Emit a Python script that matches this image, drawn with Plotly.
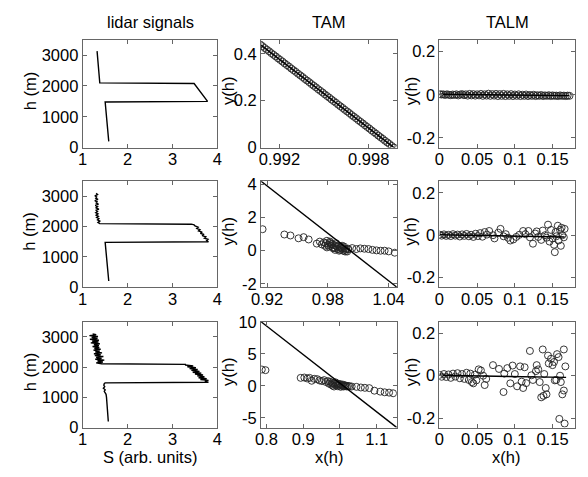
import plotly.graph_objects as go

W, H = 588, 477
FONT = "Liberation Sans, Arial, Helvetica, sans-serif"
FS = 16.5

# ---------------- lidar signals: altitude h (m) vs signal S (arb. units)
lid1_h = [200, 1480, 1500, 2080, 2100, 3130]
lid1_S = [1.58, 1.50, 3.78, 3.48, 1.38, 1.32]

lid2_h = [200, 600, 1000, 1480,
          1500, 1540, 1580, 1620, 1660, 1700, 1740, 1780, 1820, 1860, 1900, 1940, 1980, 2020, 2060, 2080,
          2100, 2140, 2180, 2220, 2260, 2300, 2340, 2380, 2420, 2460, 2500, 2540, 2580, 2620, 2660, 2700,
          2740, 2780, 2820, 2860, 2900, 2940, 2980, 3020, 3060, 3100]
lid2_S = [1.58, 1.56, 1.53, 1.50,
          3.80, 3.76, 3.79, 3.71, 3.74, 3.66, 3.70, 3.62, 3.66, 3.58, 3.61, 3.54, 3.57, 3.50, 3.48, 3.42,
          1.38, 1.34, 1.38, 1.33, 1.36, 1.31, 1.35, 1.30, 1.34, 1.29, 1.33, 1.30, 1.36, 1.29, 1.33, 1.28,
          1.35, 1.30, 1.32, 1.27, 1.34, 1.29, 1.31, 1.27, 1.33, 1.30]

lid3_h = [200, 500, 800, 1000, 1100, 1200, 1250, 1300, 1350, 1400, 1450, 1480,
          1500, 1530, 1560, 1590, 1620, 1650, 1680, 1710, 1740, 1770, 1800, 1830, 1860, 1890, 1920,
          1950, 1980, 2010, 2040, 2070, 2090,
          2110, 2140, 2170, 2200, 2230, 2260, 2290, 2320, 2350, 2380, 2410, 2440, 2470, 2500, 2530,
          2560, 2590, 2620, 2650, 2680, 2710, 2740, 2770, 2800, 2830, 2860, 2890, 2920, 2950, 2980,
          3010, 3040, 3070, 3100]
lid3_S = [1.57, 1.56, 1.55, 1.53, 1.52, 1.48, 1.50, 1.46, 1.49, 1.47, 1.48, 1.50,
          3.80, 3.72, 3.80, 3.62, 3.76, 3.58, 3.71, 3.55, 3.68, 3.50, 3.64, 3.45, 3.60, 3.42, 3.56,
          3.38, 3.52, 3.33, 3.46, 3.28, 3.30,
          1.42, 1.30, 1.45, 1.33, 1.48, 1.28, 1.42, 1.30, 1.46, 1.27, 1.40, 1.25, 1.43, 1.28, 1.38,
          1.24, 1.40, 1.26, 1.37, 1.22, 1.36, 1.25, 1.38, 1.18, 1.35, 1.21, 1.36, 1.16, 1.33, 1.20,
          1.34, 1.15, 1.30, 1.22]

# ---------------- TAM: y(h) vs x(h)
tam1_x = [0.99070, 0.99085, 0.99100, 0.99115, 0.99130, 0.99145, 0.99160, 0.99175, 0.99190, 0.99205,
          0.99220, 0.99235, 0.99250, 0.99265, 0.99280, 0.99295, 0.99310, 0.99325, 0.99340, 0.99355,
          0.99370, 0.99385, 0.99400, 0.99415, 0.99430, 0.99445, 0.99460, 0.99475, 0.99490, 0.99505,
          0.99520, 0.99535, 0.99550, 0.99565, 0.99580, 0.99595, 0.99610, 0.99625, 0.99640, 0.99655,
          0.99670, 0.99685, 0.99700, 0.99715, 0.99730, 0.99745, 0.99760, 0.99775, 0.99790, 0.99805,
          0.99820, 0.99835, 0.99850, 0.99865, 0.99880, 0.99895, 0.99910, 0.99925, 0.99940, 0.99955,
          0.99970]
tam1_y = [0.440, 0.433, 0.425, 0.418, 0.411, 0.403, 0.396, 0.389, 0.381, 0.374,
          0.367, 0.359, 0.352, 0.345, 0.337, 0.330, 0.323, 0.315, 0.308, 0.301,
          0.293, 0.286, 0.279, 0.271, 0.264, 0.257, 0.249, 0.242, 0.235, 0.227,
          0.220, 0.213, 0.205, 0.198, 0.191, 0.183, 0.176, 0.169, 0.161, 0.154,
          0.147, 0.139, 0.132, 0.125, 0.117, 0.110, 0.103, 0.095, 0.088, 0.081,
          0.073, 0.066, 0.059, 0.051, 0.044, 0.037, 0.029, 0.022, 0.015, 0.007,
          0.000]
tam1_line_x = [0.9907, 0.9998]
tam1_line_y = [0.440, -0.005]

tam2_x = [0.9155, 0.937, 0.943, 0.951, 0.956, 0.961, 0.969, 0.972, 0.974, 0.976,
          0.977, 0.978, 0.979, 0.980, 0.981, 0.982, 0.983, 0.984, 0.985, 0.986,
          0.987, 0.988, 0.989, 0.990, 0.991, 0.992, 0.993, 0.994, 0.995, 0.996,
          0.997, 0.998, 0.999, 1.000, 0.982, 0.985, 0.988, 0.991, 0.994, 0.997,
          0.979, 0.983, 0.987, 0.992, 0.996, 1.000, 1.004, 1.008, 1.012, 1.016,
          1.020, 1.024, 1.028, 1.032, 1.036, 1.040, 1.046]
tam2_y = [1.30, 0.98, 0.92, 0.75, 0.82, 0.68, 0.43, 0.55, 0.38, 0.50,
          0.30, 0.45, 0.60, 0.35, 0.25, 0.48, 0.30, 0.40, 0.20, 0.35,
          0.15, 0.30, 0.25, 0.10, 0.28, 0.05, 0.20, 0.12, 0.00, 0.15,
          0.05, 0.10, -0.05, 0.08, 0.55, 0.15, 0.45, 0.00, 0.30, -0.05,
          0.20, 0.40, 0.05, 0.18, 0.25, 0.12, 0.16, 0.10, 0.14, 0.12,
          0.10, 0.05, 0.02, 0.00, 0.00, -0.04, -0.12]
tam2_line_x = [0.914, 1.048]
tam2_line_y = [4.2, -2.2]

tam3_x = [0.787, 0.797, 0.893, 0.903, 0.911, 0.917, 0.923, 0.930, 0.938, 0.944,
          0.951, 0.957, 0.962, 0.967, 0.970, 0.973, 0.976, 0.978, 0.980, 0.982,
          0.984, 0.986, 0.988, 0.990, 0.992, 0.994, 0.996, 0.998, 1.000, 1.002,
          1.004, 1.006, 1.008, 1.010, 1.012, 1.014, 1.016, 1.019, 1.022, 1.026,
          1.032, 1.045, 1.057, 1.068, 1.080, 1.094, 1.110, 1.122, 1.134, 1.145]
tam3_y = [2.55, 2.45, 1.25, 1.30, 1.15, 1.25, 0.80, 1.10, 1.05, 0.85,
          0.75, 0.90, 0.60, 0.75, 0.35, 0.65, 0.20, 0.50, 0.05, 0.40,
          -0.10, 0.30, 0.55, 0.10, 0.35, -0.05, 0.25, 0.05, 0.30, -0.15,
          0.15, 0.00, 0.20, -0.10, 0.10, -0.05, 0.05, -0.10, 0.00, -0.05,
          -0.10, -0.15, -0.25, -0.30, -0.35, -0.75, -0.90, -1.00, -1.05, -1.15]
tam3_line_x = [0.785, 1.155]
tam3_line_y = [10.0, -6.5]

# ---------------- TALM: y(h) vs x(h)
talm1_x = [0.0000, 0.0025, 0.0050, 0.0075, 0.0100, 0.0125, 0.0150, 0.0175, 0.0200, 0.0225,
           0.0250, 0.0275, 0.0300, 0.0325, 0.0350, 0.0375, 0.0400, 0.0425, 0.0450, 0.0475,
           0.0500, 0.0525, 0.0550, 0.0575, 0.0600, 0.0625, 0.0650, 0.0675, 0.0700, 0.0725,
           0.0750, 0.0775, 0.0800, 0.0825, 0.0850, 0.0875, 0.0900, 0.0925, 0.0950, 0.0975,
           0.1000, 0.1025, 0.1050, 0.1075, 0.1100, 0.1125, 0.1150, 0.1175, 0.1200, 0.1225,
           0.1250, 0.1275, 0.1300, 0.1325, 0.1350, 0.1375, 0.1400, 0.1425, 0.1450, 0.1475,
           0.1500, 0.1525, 0.1550, 0.1575, 0.1600, 0.1625, 0.1650, 0.1675, 0.1700, 0.1725]
talm1_y = [0.003, 0.001, 0.002, -0.001, 0.002, 0.000, -0.002, 0.001, -0.001, 0.002,
           -0.003, 0.001, 0.003, -0.002, 0.002, -0.004, 0.004, -0.003, 0.003, -0.004,
           0.002, -0.003, 0.004, -0.005, 0.002, -0.004, 0.005, -0.005, 0.003, -0.004,
           0.004, -0.006, 0.003, -0.005, 0.004, -0.006, 0.002, -0.005, 0.003, -0.006,
           0.001, -0.005, 0.002, -0.006, 0.000, -0.005, 0.001, -0.006, -0.001, -0.005,
           0.000, -0.006, -0.002, -0.005, -0.001, -0.006, -0.003, -0.005, -0.002, -0.006,
           -0.003, -0.005, -0.004, -0.006, -0.003, -0.005, -0.004, -0.006, -0.004, -0.005]
talm1_line_x = [0.0, 0.172]
talm1_line_y = [0.002, -0.004]

talm2_x = [0.000, 0.003, 0.006, 0.009, 0.012, 0.015, 0.018, 0.021, 0.024, 0.027,
           0.030, 0.033, 0.036, 0.039, 0.042, 0.045, 0.048, 0.051, 0.054, 0.057,
           0.060, 0.063, 0.066, 0.071, 0.073, 0.078, 0.081, 0.085, 0.088, 0.091,
           0.094, 0.098, 0.102, 0.106, 0.111, 0.114, 0.118, 0.120, 0.124, 0.127,
           0.129, 0.131, 0.135, 0.137, 0.140, 0.142, 0.144, 0.146, 0.148, 0.150,
           0.152, 0.153, 0.154, 0.155, 0.157, 0.158, 0.160, 0.161, 0.162, 0.163,
           0.165, 0.166]
talm2_y = [0.003, -0.002, 0.004, -0.003, 0.002, -0.004, 0.005, -0.002, 0.003, -0.006,
           0.004, -0.003, 0.006, -0.005, 0.002, -0.008, 0.007, -0.004, 0.010, -0.007,
           0.015, 0.003, 0.020, 0.000, -0.015, 0.012, 0.030, -0.005, 0.005, -0.012,
           -0.025, -0.020, -0.008, 0.002, 0.020, 0.005, 0.020, -0.010, -0.040, 0.008,
           0.018, -0.008, -0.022, 0.022, 0.000, -0.012, 0.050, -0.030, 0.025, -0.015,
           -0.045, -0.080, 0.015, -0.005, 0.045, -0.025, 0.025, -0.050, 0.035, 0.000,
           -0.010, 0.030]
talm2_line_x = [0.0, 0.166]
talm2_line_y = [0.002, -0.008]

talm3_x = [0.000, 0.003, 0.006, 0.009, 0.012, 0.015, 0.018, 0.021, 0.024, 0.027,
           0.030, 0.033, 0.036, 0.039, 0.041, 0.043, 0.045, 0.047, 0.049, 0.052,
           0.055, 0.058, 0.060, 0.062, 0.071, 0.079, 0.085, 0.086, 0.090, 0.094,
           0.097, 0.100, 0.103, 0.107, 0.109, 0.111, 0.113, 0.115, 0.120, 0.122,
           0.124, 0.128, 0.129, 0.131, 0.133, 0.135, 0.137, 0.138, 0.139, 0.141,
           0.142, 0.144, 0.145, 0.148, 0.150, 0.152, 0.153, 0.155, 0.156, 0.158,
           0.159, 0.160, 0.161, 0.163, 0.165, 0.165, 0.166, 0.167]
talm3_y = [0.004, -0.005, 0.008, -0.006, 0.006, -0.010, 0.010, -0.004, 0.012, -0.012,
           0.008, -0.015, 0.014, -0.020, 0.010, -0.030, -0.036, 0.005, -0.022, 0.030,
           0.025, 0.000, -0.044, -0.015, 0.050, 0.032, -0.077, 0.010, 0.036, -0.036,
           0.048, 0.008, -0.050, 0.044, -0.028, -0.058, 0.040, -0.035, 0.117, 0.002,
           -0.020, 0.022, 0.050, 0.030, -0.030, -0.102, 0.124, -0.095, 0.008, -0.058,
           -0.088, 0.095, 0.058, 0.080, 0.050, 0.065, -0.022, -0.020, 0.102, 0.088,
           -0.204, 0.000, -0.030, -0.088, 0.124, -0.070, -0.226, 0.044]
talm3_line_x = [0.0, 0.168]
talm3_line_y = [0.002, -0.008]

# ---------------- axes ticks / ranges
lid_xt = [1, 2, 3, 4]
lid_yt = [0, 1000, 2000, 3000]
tam1_xt = [0.992, 0.998]; tam1_yt = [0, 0.2, 0.4]
tam2_xt = [0.92, 0.98, 1.04]; tam2_yt = [-2, 0, 2, 4]
tam3_xt = [0.8, 0.9, 1.0, 1.1]; tam3_yt = [-5, 0, 5, 10]
talm_xt = [0, 0.05, 0.1, 0.15]; talm_yt = [-0.2, 0, 0.2]

col_px = [(75, 214), (259, 399), (443, 583)]
row_px = [(32, 144), (179, 289), (325, 435)]

fig = go.Figure()

panels = [
    # (row, col, lines, markers, xrange, yrange, xticks, yticks)
    (0, 0, [(lid1_S, lid1_h)], None, [1, 4], [0, 3500], lid_xt, lid_yt),
    (1, 0, [(lid2_S, lid2_h)], None, [1, 4], [0, 3500], lid_xt, lid_yt),
    (2, 0, [(lid3_S, lid3_h)], None, [1, 4], [0, 3500], lid_xt, lid_yt),
    (0, 1, [(tam1_line_x, tam1_line_y)], (tam1_x, tam1_y), [0.99076, 0.99989], [0, 0.46], tam1_xt, tam1_yt),
    (1, 1, [(tam2_line_x, tam2_line_y)], (tam2_x, tam2_y), [0.914, 1.048], [-2.2, 4.2], tam2_xt, tam2_yt),
    (2, 1, [(tam3_line_x, tam3_line_y)], (tam3_x, tam3_y), [0.785, 1.155], [-6.5, 10], tam3_xt, tam3_yt),
    (0, 2, [(talm1_line_x, talm1_line_y)], (talm1_x, talm1_y), [0, 0.18], [-0.245, 0.255], talm_xt, talm_yt),
    (1, 2, [(talm2_line_x, talm2_line_y)], (talm2_x, talm2_y), [0, 0.18], [-0.245, 0.255], talm_xt, talm_yt),
    (2, 2, [(talm3_line_x, talm3_line_y)], (talm3_x, talm3_y), [0, 0.18], [-0.245, 0.255], talm_xt, talm_yt),
]

def fmt(v):
    return "%g" % v

layout = {}
for k, (r, c, lines, marks, xr, yr, xt, yt) in enumerate(panels, start=1):
    xa = "x" if k == 1 else "x%d" % k
    ya = "y" if k == 1 else "y%d" % k
    if marks is not None:
        fig.add_trace(go.Scatter(x=marks[0], y=marks[1], mode="markers", xaxis=xa, yaxis=ya,
                                 marker=dict(symbol="circle-open", size=7, color="#222",
                                             line=dict(width=0.9)),
                                 showlegend=False, hoverinfo="skip"))
    for lx, ly in lines:
        fig.add_trace(go.Scatter(x=lx, y=ly, mode="lines", xaxis=xa, yaxis=ya,
                                 line=dict(color="black", width=1.4),
                                 showlegend=False, hoverinfo="skip"))
    common = dict(showgrid=False, zeroline=False, showline=True, mirror="ticks",
                  linecolor="#666", linewidth=1, ticks="inside", ticklen=4,
                  tickcolor="#666", tickfont=dict(family=FONT, size=FS, color="black"))
    layout["xaxis" if k == 1 else "xaxis%d" % k] = dict(
        domain=[col_px[c][0] / W, col_px[c][1] / W], range=xr, anchor=ya,
        tickvals=xt, ticktext=[fmt(v) for v in xt], ticklabelstandoff=-3, **common)
    layout["yaxis" if k == 1 else "yaxis%d" % k] = dict(
        domain=[1 - row_px[r][1] / H, 1 - row_px[r][0] / H], range=yr, anchor=xa,
        tickvals=yt, ticktext=[fmt(v) for v in yt], **common)

annots = []
def ann(text, px, py, angle=0):
    annots.append(dict(text=text, x=px / W, y=1 - py / H, xref="paper", yref="paper",
                       showarrow=False, textangle=angle, xanchor="center", yanchor="middle",
                       font=dict(family=FONT, size=FS, color="black")))

ann("lidar signals", 144.5, 14)
ann("TAM", 329, 14)
ann("TALM", 513, 14)
for r in range(3):
    cy = (row_px[r][0] + row_px[r][1]) / 2 - 3
    ann("h (m)", 20, cy, -90)
    ann("y(h)", 225, cy, -90)
    ann("y(h)", 413, cy, -90)
ann("S (arb. units)", 144, 466)
ann("x(h)", 329, 466)
ann("x(h)", 512, 466)

fig.update_layout(width=W, height=H, margin=dict(l=0, r=0, t=0, b=0),
                  paper_bgcolor="white", plot_bgcolor="white",
                  annotations=annots, **layout)
fig.write_html("out.html")
